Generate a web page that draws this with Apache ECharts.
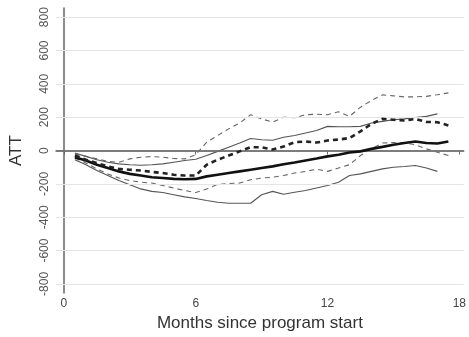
<!DOCTYPE html>
<html>
<head>
<meta charset="utf-8">
<script src="https://cdn.jsdelivr.net/npm/echarts@6/dist/echarts.min.js"></script>
<style>html,body{margin:0;padding:0;background:#fff}#c{width:469px;height:337px}</style>
</head>
<body>
<div id="c"></div>
<script>
const months = [0.5,1,1.5,2,2.5,3,3.5,4,4.5,5,5.5,6,6.5,7,7.5,8,8.5,9,9.5,10,10.5,11,11.5,12,12.5,13,13.5,14,14.5,15,15.5,16,16.5,17,17.5];
const estSolid = [-40,-60,-85,-105,-125,-140,-150,-160,-165,-170,-172,-170,-155,-145,-135,-125,-115,-105,-95,-82,-72,-60,-48,-35,-25,-12,-5,10,22,35,45,54,45,42,54];
const estDashed = [-30,-55,-75,-95,-110,-115,-120,-128,-135,-145,-150,-150,-85,-55,-30,-5,20,20,6,24,50,54,48,60,66,75,115,160,190,185,180,190,172,170,150];
const ciSolidUp = [-15,-35,-55,-70,-80,-85,-88,-85,-80,-70,-60,-52,-30,-5,20,45,72,65,62,80,90,105,120,145,143,143,145,165,175,185,190,198,205,220,null];
const ciSolidLo = [-55,-85,-120,-150,-180,-205,-230,-245,-252,-265,-278,-288,-300,-310,-316,-316,-316,-265,-245,-262,-250,-240,-225,-210,-190,-150,-140,-125,-110,-100,-96,-90,-105,-125,null];
const ciDashUp = [-20,-35,-50,-65,-70,-50,-40,-36,-40,-48,-50,-25,50,90,130,165,215,190,170,200,197,215,218,215,233,205,260,300,334,328,322,322,325,335,346];
const ciDashLo = [-45,-75,-110,-140,-165,-180,-190,-195,-210,-225,-240,-252,-230,-203,-198,-195,-175,-165,-160,-150,-135,-125,-112,-125,-105,-85,-30,10,45,48,45,35,10,-10,-30];
const xTicks = [0,6,12,18];
const yTicks = [-800,-600,-400,-200,0,200,400,600,800];

const pairs = arr => months.map((m,i)=>[m,arr[i]]).filter(p=>p[1]!==null);
const font = 'Liberation Sans';
function line(name, data, width, color, dashed, z){
  return {name, type:'line', data:pairs(data), symbol:'none', z,
    lineStyle:{width, color, type: dashed ? [5,4] : 'solid'}};
}
const chart = echarts.init(document.getElementById('c'));
chart.setOption({
  animation:false,
  grid:{left:53,right:3,top:8,bottom:43},
  xAxis:{type:'value',min:-0.36,max:18.2,
    name:'Months since program start',nameLocation:'middle',nameGap:21,
    nameTextStyle:{fontFamily:font,fontSize:17,color:'#333'},
    axisLine:{lineStyle:{color:'#666',width:1.5}},
    axisTick:{customValues:xTicks,length:4,lineStyle:{color:'#666'}},
    axisLabel:{customValues:xTicks,fontFamily:font,fontSize:12,color:'#444',margin:5},
    splitLine:{show:false}},
  yAxis:{type:'value',min:-855,max:855,
    name:'ATT',nameLocation:'middle',nameRotate:90,nameGap:31,
    nameTextStyle:{fontFamily:font,fontSize:17,color:'#333'},
    axisLine:{show:true,lineStyle:{color:'#666',width:1.5}},
    axisTick:{show:true,customValues:yTicks,length:4,lineStyle:{color:'#666'}},
    axisLabel:{customValues:yTicks,rotate:90,fontFamily:font,fontSize:12,color:'#555',margin:5},
    splitLine:{show:false}},
  series:[
    {type:'line',data:[],silent:true,
      markLine:{silent:true,symbol:'none',label:{show:false},
        lineStyle:{color:'#e4e4e4',width:1,type:'solid'},
        data:yTicks.filter(v=>v!==0).map(v=>({yAxis:v}))}},
    {type:'line',data:[],silent:true,z:3,
      markLine:{silent:true,symbol:'none',label:{show:false},
        lineStyle:{color:'#777',width:1.5,type:'solid'},
        data:[{yAxis:0}]}},
    line('ciSolidUp',ciSolidUp,1.1,'#555',false,4),
    line('ciSolidLo',ciSolidLo,1.1,'#555',false,4),
    line('ciDashUp',ciDashUp,1.1,'#666',true,4),
    line('ciDashLo',ciDashLo,1.1,'#666',true,4),
    line('estSolid',estSolid,2.6,'#111',false,5),
    line('estDashed',estDashed,2.6,'#222',true,5)
  ]
});
</script>
</body>
</html>
